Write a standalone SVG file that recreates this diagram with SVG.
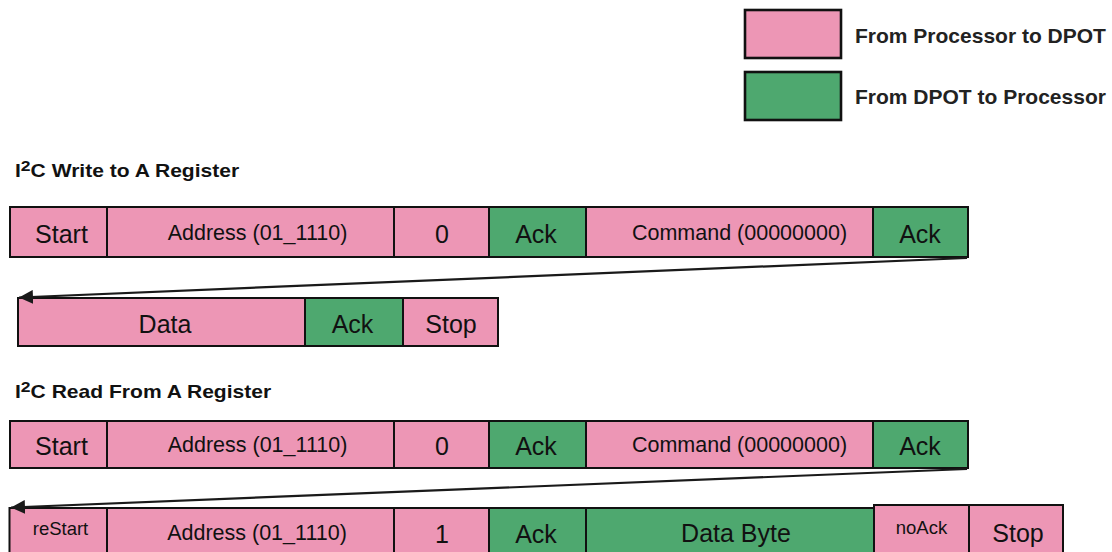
<svg xmlns="http://www.w3.org/2000/svg" width="1112" height="552" viewBox="0 0 1112 552">
  <style>
    .host { fill: #ED96B5; stroke: #111; stroke-width: 2; }
    .dev { fill: #4EA86F; stroke: #111; stroke-width: 2; }
    .key { stroke-width: 2.6; }
    .big { font-family: "Liberation Sans", Arial, sans-serif; font-size: 25px; fill: #111; text-anchor: middle; }
    .mid { font-family: "Liberation Sans", Arial, sans-serif; font-size: 21.5px; fill: #111; text-anchor: middle; }
    .sml { font-family: "Liberation Sans", Arial, sans-serif; font-size: 18.5px; fill: #111; text-anchor: middle; }
    .legend { font-family: "Liberation Sans", Arial, sans-serif; font-size: 21px; font-weight: bold; fill: #222; }
    .title { font-family: "Liberation Sans", Arial, sans-serif; font-size: 18px; font-weight: bold; fill: #111; }
    .wrap { fill: none; stroke: #1a1a1a; stroke-width: 2.2; }
  </style>
  <defs>
    <marker id="head" markerUnits="userSpaceOnUse" markerWidth="16" markerHeight="14" refX="14" refY="7" orient="auto">
      <path d="M0,0 L14,7 L0,14 z" fill="#1a1a1a"/>
    </marker>
  </defs>

  <!-- legend -->
  <g id="legend-host">
    <rect class="host key" x="745" y="10" width="96" height="48"/>
    <text class="legend" x="855" y="42.5">From Processor to DPOT</text>
  </g>
  <g id="legend-dev">
    <rect class="dev key" x="745" y="72" width="96" height="48"/>
    <text class="legend" x="855" y="104">From DPOT to Processor</text>
  </g>

  <!-- section titles -->
  <g id="title-write">
    <text class="title" transform="translate(15 177) scale(1.17 1)">I<tspan font-size="15" dy="-6">2</tspan><tspan dy="6">C Write to A Register</tspan></text>
  </g>
  <g id="title-read">
    <text class="title" transform="translate(15 397.5) scale(1.17 1)">I<tspan font-size="15" dy="-6">2</tspan><tspan dy="6">C Read From A Register</tspan></text>
  </g>

  <!-- write sequence, first line -->
  <g id="w-start"><rect class="host" x="10" y="207" width="97" height="50"/><text class="big" x="61.5" y="242.5">Start</text></g>
  <g id="w-addr"><rect class="host" x="107" y="207" width="287" height="50"/><text class="mid" x="257.5" y="240">Address (01_1110)</text></g>
  <g id="w-rw"><rect class="host" x="394" y="207" width="95" height="50"/><text class="big" x="442" y="242.5">0</text></g>
  <g id="w-ack1"><rect class="dev" x="489" y="207" width="97" height="50"/><text class="big" x="536" y="242.5">Ack</text></g>
  <g id="w-cmd"><rect class="host" x="586" y="207" width="287" height="50"/><text class="mid" x="739.5" y="240">Command (00000000)</text></g>
  <g id="w-ack2"><rect class="dev" x="873" y="207" width="95" height="50"/><text class="big" x="920" y="242.5">Ack</text></g>

  <!-- write sequence, second line -->
  <g id="w-data"><rect class="host" x="18" y="298" width="287" height="48"/><text class="big" x="165" y="333">Data</text></g>
  <g id="w-ack3"><rect class="dev" x="305" y="298" width="98" height="48"/><text class="big" x="352.5" y="333">Ack</text></g>
  <g id="w-stop"><rect class="host" x="403" y="298" width="95" height="48"/><text class="big" x="451" y="333">Stop</text></g>

  <!-- read sequence, first line -->
  <g id="r-start"><rect class="host" x="10" y="421" width="97" height="47"/><text class="big" x="61.5" y="454.5">Start</text></g>
  <g id="r-addr"><rect class="host" x="107" y="421" width="287" height="47"/><text class="mid" x="257.5" y="451.5">Address (01_1110)</text></g>
  <g id="r-rw"><rect class="host" x="394" y="421" width="95" height="47"/><text class="big" x="442" y="454.5">0</text></g>
  <g id="r-ack1"><rect class="dev" x="489" y="421" width="97" height="47"/><text class="big" x="536" y="454.5">Ack</text></g>
  <g id="r-cmd"><rect class="host" x="586" y="421" width="287" height="47"/><text class="mid" x="739.5" y="451.5">Command (00000000)</text></g>
  <g id="r-ack2"><rect class="dev" x="873" y="421" width="95" height="47"/><text class="big" x="920" y="454.5">Ack</text></g>

  <!-- read sequence, second line -->
  <g id="r-restart"><rect class="host" x="9.5" y="508" width="97.5" height="60"/><text class="sml" x="60.5" y="535">reStart</text></g>
  <g id="r-addr2"><rect class="host" x="107" y="508" width="287" height="60"/><text class="mid" x="257" y="539.5">Address (01_1110)</text></g>
  <g id="r-rw2"><rect class="host" x="394" y="508" width="95" height="60"/><text class="big" x="442" y="542.5">1</text></g>
  <g id="r-ack3"><rect class="dev" x="489" y="508" width="97" height="60"/><text class="big" x="536" y="542.5">Ack</text></g>
  <g id="r-byte"><rect class="dev" x="586" y="508" width="288" height="60"/><text class="big" x="736" y="542">Data Byte</text></g>
  <g id="r-noack"><rect class="host" x="874" y="505" width="95" height="60"/><text class="sml" x="921.5" y="533.5">noAck</text></g>
  <g id="r-stop"><rect class="host" x="969" y="505" width="94" height="60"/><text class="big" x="1018" y="542">Stop</text></g>

  <!-- line-wrap connectors -->
  <g id="connectors">
    <line class="wrap" x1="967" y1="258" x2="19" y2="297.5" marker-end="url(#head)"/>
    <line class="wrap" x1="967" y1="469" x2="11" y2="507.5" marker-end="url(#head)"/>
  </g>
</svg>
